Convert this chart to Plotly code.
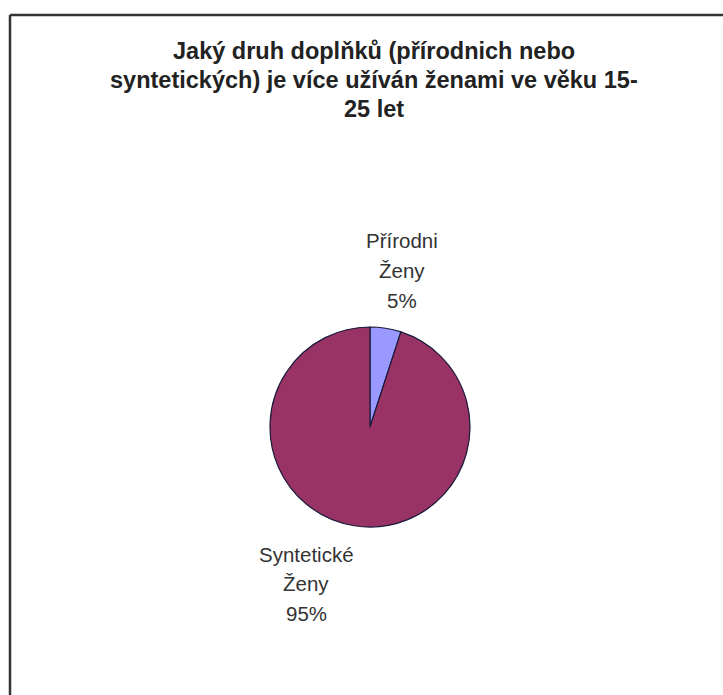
import plotly.graph_objects as go

# Share of supplement types used by women aged 15-25
categories = ["Přírodni", "Syntetické"]
group = "Ženy"
values = [5, 95]
colors = ["#9999FF", "#993366"]

title_lines = [
    "Jaký druh doplňků (přírodnich nebo",
    "syntetických) je více užíván ženami ve věku 15-",
    "25 let",
]

W, H = 723, 695
cx, cy, r = 370, 427, 100  # pie centre and radius in pixels

fig = go.Figure()
fig.add_trace(go.Pie(
    labels=categories,
    values=values,
    marker=dict(colors=colors, line=dict(color="#1a1a3a", width=1.2)),
    sort=False,
    direction="clockwise",
    rotation=0,
    textinfo="none",
    hoverinfo="label+percent",
    showlegend=False,
    domain=dict(x=[(cx - r) / W, (cx + r) / W], y=[1 - (cy + r) / H, 1 - (cy - r) / H]),
))

annotations = []


def add_lines(lines, x, y0, step, size, color, bold=False):
    # one annotation per line so the line spacing can be set exactly
    for i, line in enumerate(lines):
        annotations.append(dict(
            text=f"<b>{line}</b>" if bold else line,
            x=x / W, y=1 - (y0 + i * step) / H, xref="paper", yref="paper",
            xanchor="center", yanchor="middle", showarrow=False,
            font=dict(family="Liberation Sans, Arial", size=size, color=color),
        ))


total = sum(values)
label_pos = [(402, 241), (306, 554)]  # pixel centres of the first label line
for cat, v, (lx, ly) in zip(categories, values, label_pos):
    pct = round(100 * v / total)
    add_lines([cat, group, f"{pct}%"], lx, ly, 29.5, 20.5, "#333333")

add_lines(title_lines, 374, 51, 29, 23.5, "#222222", bold=True)

# chart-area frame (top and left edges visible)
shapes = [
    dict(type="line", xref="paper", yref="paper", x0=10 / W, x1=1.0, y0=1 - 15 / H, y1=1 - 15 / H,
         line=dict(color="#333333", width=2.5)),
    dict(type="line", xref="paper", yref="paper", x0=10 / W, x1=10 / W, y0=0, y1=1 - 15 / H,
         line=dict(color="#333333", width=2.5)),
]

fig.update_layout(
    width=W, height=H,
    margin=dict(l=0, r=0, t=0, b=0),
    paper_bgcolor="white", plot_bgcolor="white",
    annotations=annotations,
    shapes=shapes,
)

fig.write_html("out.html")
